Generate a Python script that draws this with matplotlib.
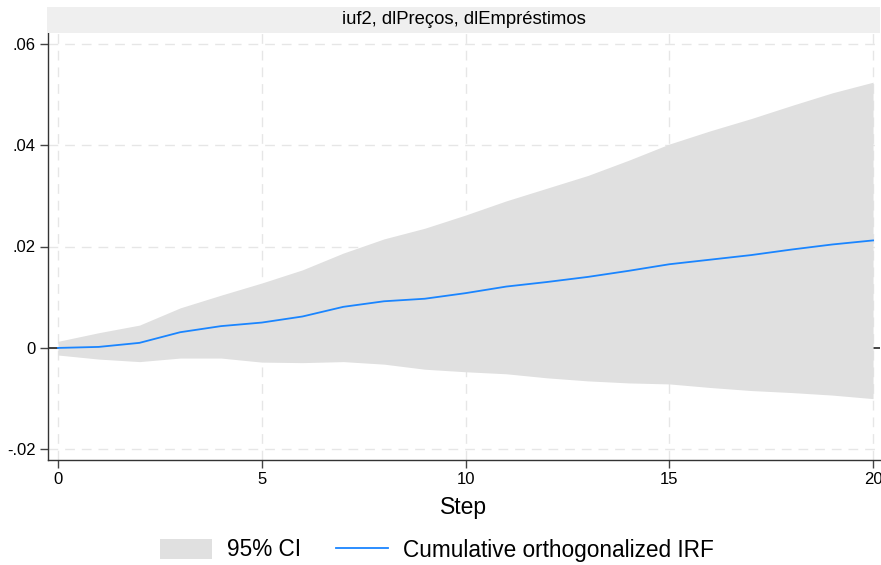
import matplotlib
matplotlib.use('Agg')
import matplotlib.pyplot as plt
import numpy as np
from matplotlib.patches import Rectangle

plt.rcParams['font.family'] = ['Liberation Sans', 'DejaVu Sans']

# cumulative orthogonalized IRF: impulse dlPreços, response dlEmpréstimos
steps = list(range(21))
irf = [0.0, 0.0002, 0.0010, 0.0031, 0.0043, 0.0050, 0.0062, 0.0081, 0.0092, 0.0097,
       0.0108, 0.0121, 0.0130, 0.0140, 0.0152, 0.0165, 0.0174, 0.0183, 0.0194, 0.0204,
       0.0212]
ci_upper = [0.0013, 0.0030, 0.0045, 0.0079, 0.0104, 0.0128, 0.0154, 0.0187, 0.0215, 0.0236,
            0.0262, 0.0290, 0.0315, 0.0340, 0.0370, 0.0402, 0.0428, 0.0452, 0.0478, 0.0503,
            0.0524]
ci_lower = [-0.0014, -0.0022, -0.0027, -0.0020, -0.0020, -0.0028, -0.0029, -0.0027, -0.0032, -0.0042,
            -0.0047, -0.0051, -0.0059, -0.0065, -0.0069, -0.0071, -0.0078, -0.0084, -0.0088, -0.0093,
            -0.0100]
panel_title = 'iuf2, dlPreços, dlEmpréstimos'
yticks = [-0.02, 0, 0.02, 0.04, 0.06]
ytick_labels = ['-.02', '0', '.02', '.04', '.06']
xticks = [0, 5, 10, 15, 20]

W, H = 881, 565
fig = plt.figure(figsize=(W / 100, H / 100), dpi=100)
ax = fig.add_axes([48 / W, 1 - 460 / H, (880 - 48) / W, (460 - 33) / H])

ax.axhline(0, color='#222222', lw=1.2, zorder=1)
ax.fill_between(steps, ci_lower, ci_upper, color='#e0e0e0', lw=0, zorder=2, label='95% CI')
ax.plot(steps, irf, color='#1a85ff', lw=1.3, zorder=3, label='Cumulative orthogonalized IRF')

ax.set_xlim(-0.245, 20.17)
ax.set_ylim(-0.0221, 0.0621)
ax.set_xticks(xticks)
ax.set_yticks(yticks)
ax.set_yticklabels(ytick_labels)
ax.tick_params(axis='both', labelsize=12, color='#444444', length=6, width=1, pad=3)
ax.grid(True, color='#e6e6e6', lw=1, linestyle=(0, (7, 5)), zorder=0)
ax.set_axisbelow(True)
for s in ['top', 'right']:
    ax.spines[s].set_visible(False)
for s in ['left', 'bottom']:
    ax.spines[s].set_color('#333333')
    ax.spines[s].set_linewidth(1)
ax.set_xlabel('Step', fontsize=16.5, labelpad=6)

# panel title strip
fig.patches.append(Rectangle((47 / W, 1 - 33 / H), (880 - 47) / W, 26 / H,
                             transform=fig.transFigure, facecolor='#efefef',
                             edgecolor='none', zorder=0))
fig.text(464 / W, 1 - 20 / H, panel_title, ha='center', va='center', fontsize=13.3)

fig.legend(loc='center', bbox_to_anchor=(437 / W, 1 - 550 / H), ncol=2, frameon=False,
           fontsize=16.3, handlelength=2.3, handleheight=1.0, columnspacing=1.55,
           handletextpad=0.66)

fig.savefig('out.png', dpi=100, facecolor='white')
